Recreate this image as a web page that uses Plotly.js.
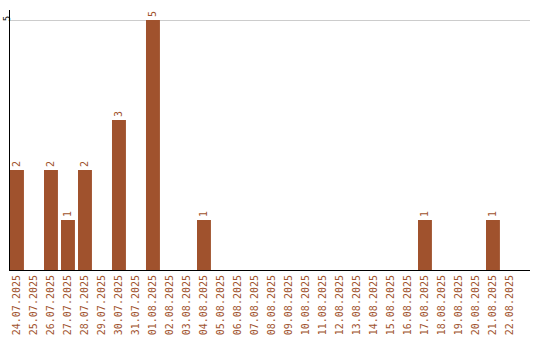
<!DOCTYPE html>
<html>
<head>
<meta charset="utf-8">
<script src="https://cdn.plot.ly/plotly-3.0.1.min.js"></script>
<style>
  html, body { margin: 0; padding: 0; background: #fff; }
  #chart { width: 540px; height: 340px; }
</style>
</head>
<body>
<div id="chart"></div>
<script>
// Daily counts, 24.07.2025 – 22.08.2025
const dates = [
  "24.07.2025", "25.07.2025", "26.07.2025", "27.07.2025", "28.07.2025",
  "29.07.2025", "30.07.2025", "31.07.2025", "01.08.2025", "02.08.2025",
  "03.08.2025", "04.08.2025", "05.08.2025", "06.08.2025", "07.08.2025",
  "08.08.2025", "09.08.2025", "10.08.2025", "11.08.2025", "12.08.2025",
  "13.08.2025", "14.08.2025", "15.08.2025", "16.08.2025", "17.08.2025",
  "18.08.2025", "19.08.2025", "20.08.2025", "21.08.2025", "22.08.2025"
];
const counts = [
  2, 0, 2, 1, 2,
  0, 3, 0, 5, 0,
  0, 1, 0, 0, 0,
  0, 0, 0, 0, 0,
  0, 0, 0, 0, 1,
  0, 0, 0, 1, 0
];
const yTicks = [5];

const barColor = "#a0522d";
const mono = "DejaVu Sans Mono, monospace";

const trace = {
  type: "bar",
  x: dates,
  y: counts,
  marker: { color: barColor },
  text: counts.map(v => (v > 0 ? String(v) : "")),
  textposition: "outside",
  textangle: -90,
  cliponaxis: false,
  constraintext: "none",
  textfont: { family: mono, size: 10, color: barColor },
  hoverinfo: "x+y"
};

const layout = {
  width: 540,
  height: 340,
  margin: { l: 10, r: 10, t: 10, b: 70, pad: 0 },
  paper_bgcolor: "#ffffff",
  plot_bgcolor: "#ffffff",
  showlegend: false,
  bargap: 0.18,
  font: { family: mono, size: 10, color: barColor },
  xaxis: {
    type: "category",
    range: [-0.41, 30.18],
    tickangle: -90,
    ticks: "",
    showgrid: false,
    showline: true,
    linecolor: "#000000",
    linewidth: 1,
    tickfont: { family: mono, size: 10, color: barColor },
    fixedrange: true
  },
  yaxis: {
    range: [0, 5.2],
    tickvals: yTicks,
    ticktext: yTicks.map(String),
    tickangle: -90,
    ticks: "",
    ticklabelstandoff: -5,
    showgrid: true,
    gridcolor: "#cccccc",
    gridwidth: 1,
    zeroline: false,
    showline: true,
    linecolor: "#000000",
    linewidth: 1,
    tickfont: { family: mono, size: 9, color: "#000000" },
    fixedrange: true
  }
};

Plotly.newPlot("chart", [trace], layout, { displayModeBar: false, staticPlot: true });
</script>
</body>
</html>
